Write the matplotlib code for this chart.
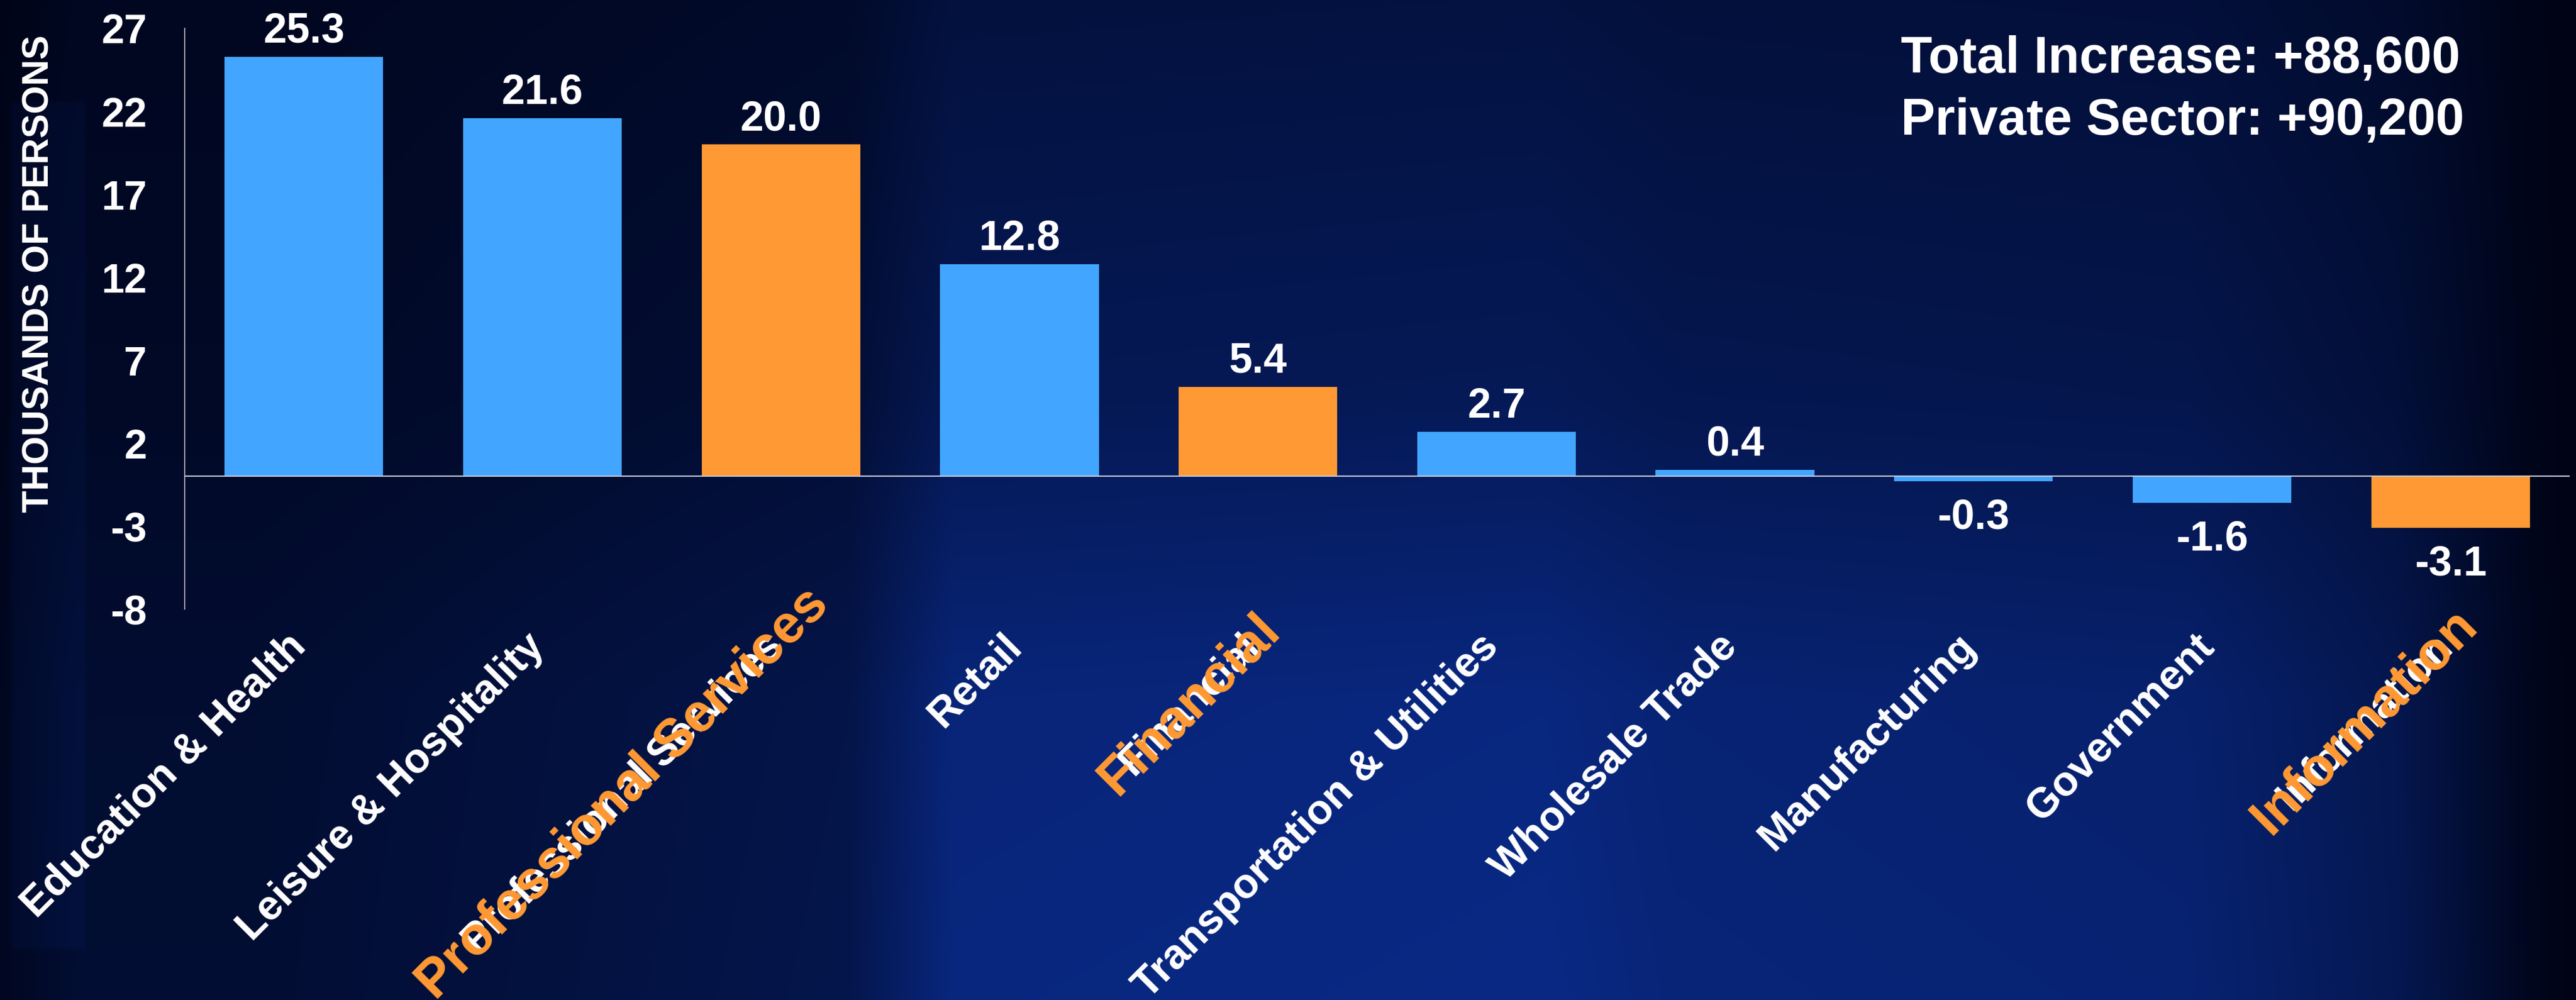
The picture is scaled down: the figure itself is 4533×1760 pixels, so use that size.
import numpy as np
import matplotlib.pyplot as plt
import matplotlib.transforms as mtransforms

categories = ['Education & Health', 'Leisure & Hospitality', 'Professional Services',
              'Retail', 'Financial', 'Transportation & Utilities', 'Wholesale Trade',
              'Manufacturing', 'Government', 'Information']
values = [25.3, 21.6, 20.0, 12.8, 5.4, 2.7, 0.4, -0.3, -1.6, -3.1]
highlighted = ['Professional Services', 'Financial', 'Information']
yticks = [-8, -3, 2, 7, 12, 17, 22, 27]
totals = ['Total Increase: +88,600', 'Private Sector: +90,200']

plt.rcParams['font.family'] = ['Liberation Sans', 'DejaVu Sans']
plt.rcParams['font.weight'] = 'bold'
plt.rcParams['axes.unicode_minus'] = False

BLUE = '#42A5FF'
ORANGE = '#FF9933'
W, H = 4533, 1760

fig = plt.figure(figsize=(W / 100, H / 100), dpi=100)

# slide background: dark navy edges, brighter blue middle/bottom, black at the right
bg = fig.add_axes([0, 0, 1, 1], zorder=-10)
yy, xx = np.mgrid[0:1:352j, 0:1:906j]
fx = np.interp(xx, [0, 0.03, 0.1, 0.33, 0.37, 0.6, 0.65, 0.85, 0.93, 0.98, 1.0],
               [0.1, 0.25, 0.25, 0.45, 0.85, 0.9, 0.8, 0.75, 0.5, 0.1, 0.0])
fy = np.interp(yy, [0, 0.4, 0.7, 1.0], [0.4, 0.6, 0.95, 1.0])
t = fx * fy
# faint lighter shape on the far left of the slide
left = (xx > 0.004) & (xx < 0.033) & (yy > 0.1) & (yy < 0.95)
t = np.where(left, t + 0.08, t)
c0 = np.array([0, 3, 20]) / 255
c1 = np.array([10, 45, 145]) / 255
img = c0 + np.clip(t, 0, 1)[..., None] * (c1 - c0)
bg.imshow(img, aspect='auto', extent=[0, 1, 0, 1], interpolation='bicubic')
bg.axis('off')

ax = fig.add_axes([325 / W, 1 - 1072 / H, (4522 - 325) / W, 1022 / H])
ax.patch.set_alpha(0)

x = np.arange(len(categories))
colors = [ORANGE if c in highlighted else BLUE for c in categories]
ax.bar(x, values, width=0.665, color=colors, zorder=2)
ax.axhline(0, color='#C8CCD8', lw=1.6, zorder=3)

for xi, v in zip(x, values):
    if v >= 0:
        ax.annotate(f'{v:.1f}', (xi, v), xytext=(0, 7), textcoords='offset points',
                    ha='center', va='bottom', fontsize=53, color='white', fontweight='bold')
    else:
        ax.annotate(f'{v:.1f}', (xi, v), xytext=(0, -21), textcoords='offset points',
                    ha='center', va='top', fontsize=53, color='white', fontweight='bold')

ax.set_xlim(-0.5, len(categories) - 0.5)
ax.set_ylim(-8, 27)
ax.set_yticks(yticks)
ax.tick_params(axis='y', length=0, pad=48, labelsize=52, labelcolor='white')
ax.set_xticks(x)
ax.set_xticklabels(categories, rotation=45, ha='right', va='top', rotation_mode='anchor',
                   fontsize=53, color='white', fontweight='bold')
ax.tick_params(axis='x', length=0, pad=22)
shift = mtransforms.ScaledTranslation(-23 / 72, 0, fig.dpi_scale_trans)
for lbl in ax.get_xticklabels():
    lbl.set_transform(lbl.get_transform() + shift)
for s in ['top', 'right', 'bottom']:
    ax.spines[s].set_visible(False)
ax.spines['left'].set_color('#A8A8B0')
ax.spines['left'].set_linewidth(1.5)

fig.text(69 / W, 1 - 482 / H, 'THOUSANDS OF PERSONS', rotation=90, ha='center', va='center',
         fontsize=46, color='white', fontweight='bold')

fig.text(3345 / W, 1 - 128 / H, totals[0], ha='left', va='baseline',
         fontsize=65, color='white', fontweight='bold')
fig.text(3345 / W, 1 - 237 / H, totals[1], ha='left', va='baseline',
         fontsize=65, color='white', fontweight='bold')

# larger orange copies of the highlighted labels, centred on the white ones
fig.canvas.draw()
renderer = fig.canvas.get_renderer()
for lbl in ax.get_xticklabels():
    if lbl.get_text() in highlighted:
        bb = lbl.get_window_extent(renderer)
        cx, cy = fig.transFigure.inverted().transform(((bb.x0 + bb.x1) / 2, (bb.y0 + bb.y1) / 2))
        fig.text(cx, cy, lbl.get_text(), rotation=45, ha='center', va='center',
                 rotation_mode='anchor', fontsize=68, color=ORANGE, fontweight='bold')

fig.savefig('out.png', dpi=100)
